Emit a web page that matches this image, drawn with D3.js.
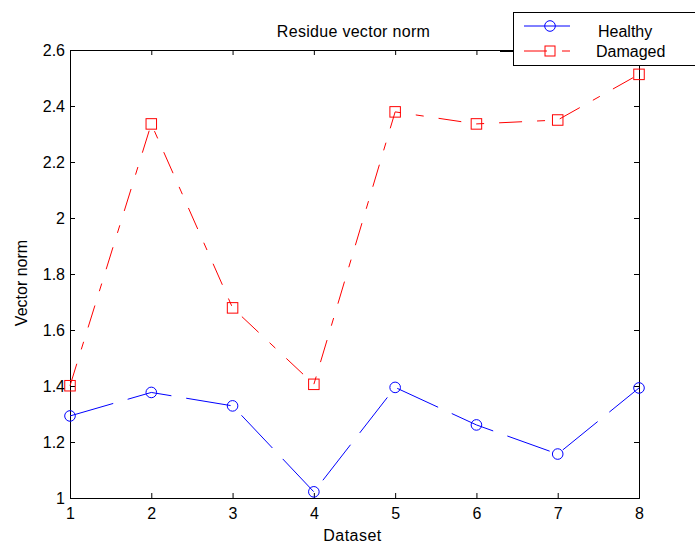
<!DOCTYPE html>
<html>
<head>
<meta charset="utf-8">
<script src="https://cdn.jsdelivr.net/npm/d3@7"></script>
<style>
    body { margin: 0; background: #fff; }
    text { font-family: "Liberation Sans", Arial, sans-serif; font-size: 16px; fill: #000; }
</style>
</head>
<body>
<div id="chart"></div>
<script>
var datasets = [1, 2, 3, 4, 5, 6, 7, 8];
var healthy = [1.293, 1.377, 1.329, 1.022, 1.395, 1.261, 1.157, 1.393];
var damaged = [1.401, 2.336, 1.679, 1.406, 2.379, 2.336, 2.350, 2.513];
var yTicks = [1, 1.2, 1.4, 1.6, 1.8, 2, 2.2, 2.4, 2.6];
var seriesNames = ['Healthy', 'Damaged'];

var width = 695,
    height = 545,
    margins = {top: 50, right: 56, bottom: 47, left: 70};

var svg = d3.select("#chart").append("svg")
    .attr("width", width)
    .attr("height", height);

var x = d3.scaleLinear()
    .domain([1, 8])
    .range([margins.left, width - margins.right]);

var y = d3.scaleLinear()
    .domain([1, 2.6])
    .range([height - margins.bottom, margins.top]);

// axes, ticks pointing inward on all four sides like matlab's box
var fmt = function(d) { return d3.format("")(d); };

svg.append("g")
    .attr("transform", "translate(0," + y(1) + ")")
    .call(d3.axisBottom(x).tickValues(datasets).tickSize(-5).tickPadding(10).tickFormat(fmt));

svg.append("g")
    .attr("transform", "translate(0," + y(2.6) + ")")
    .call(d3.axisTop(x).tickValues(datasets).tickSize(-5).tickFormat(""));

svg.append("g")
    .attr("transform", "translate(" + x(1) + ",0)")
    .call(d3.axisLeft(y).tickValues(yTicks).tickSize(-5).tickPadding(5).tickFormat(fmt));

svg.append("g")
    .attr("transform", "translate(" + x(8) + ",0)")
    .call(d3.axisRight(y).tickValues(yTicks).tickSize(-5).tickFormat(""));

svg.selectAll(".domain").attr("stroke", "#000");
svg.selectAll(".tick line").attr("stroke", "#000");
svg.selectAll(".tick text").attr("font-size", 16).attr("font-family", "Liberation Sans, Arial, sans-serif");
svg.selectAll(".tick text").filter(function() { return this.parentNode.parentNode.getAttribute("transform").indexOf("translate(0,") === 0; })
    .attr("dy", "0.71em");

var line = d3.line()
    .x(function(d, i) { return x(datasets[i]); })
    .y(function(d) { return y(d); });

svg.append("path")
    .datum(healthy)
    .attr("d", line)
    .attr("fill", "none")
    .attr("stroke", "#0000ff")
    .attr("stroke-width", 1)
    .attr("stroke-dasharray", "45,15");

svg.append("path")
    .datum(damaged)
    .attr("d", line)
    .attr("fill", "none")
    .attr("stroke", "#ff0000")
    .attr("stroke-width", 1)
    .attr("stroke-dasharray", "23,15,8,15");

svg.selectAll(".hmark")
    .data(healthy)
    .enter().append("circle")
    .attr("class", "hmark")
    .attr("cx", function(d, i) { return x(datasets[i]); })
    .attr("cy", function(d) { return y(d); })
    .attr("r", 5.3)
    .attr("fill", "none")
    .attr("stroke", "#0000ff");

svg.selectAll(".dmark")
    .data(damaged)
    .enter().append("rect")
    .attr("class", "dmark")
    .attr("x", function(d, i) { return x(datasets[i]) - 5.25; })
    .attr("y", function(d) { return y(d) - 5.25; })
    .attr("width", 10.5)
    .attr("height", 10.5)
    .attr("fill", "none")
    .attr("stroke", "#ff0000");

// labels
svg.append("text")
    .attr("x", 353.5)
    .attr("y", 37)
    .attr("text-anchor", "middle")
    .style("letter-spacing", "0.3px")
    .text("Residue vector norm");

svg.append("text")
    .attr("x", 352.5)
    .attr("y", 541)
    .attr("text-anchor", "middle")
    .style("letter-spacing", "0.5px")
    .text("Dataset");

svg.append("text")
    .attr("transform", "translate(27,283) rotate(-90)")
    .attr("text-anchor", "middle")
    .text("Vector norm");

// legend, runs off the right edge of the figure
var legend = svg.append("g");

legend.append("line")
    .attr("x1", 500).attr("x2", 513)
    .attr("y1", 51.5).attr("y2", 51.5)
    .attr("stroke", "#000");

legend.append("rect")
    .attr("x", 513.5)
    .attr("y", 12.5)
    .attr("width", 200)
    .attr("height", 53)
    .attr("fill", "#fff")
    .attr("stroke", "#000");

legend.append("line")
    .attr("x1", 524).attr("x2", 570)
    .attr("y1", 26).attr("y2", 26)
    .attr("stroke", "#0000ff");

legend.append("circle")
    .attr("cx", 550).attr("cy", 26).attr("r", 5.3)
    .attr("fill", "none").attr("stroke", "#0000ff");

legend.append("line")
    .attr("x1", 524).attr("x2", 570)
    .attr("y1", 51).attr("y2", 51)
    .attr("stroke", "#ff0000")
    .attr("stroke-dasharray", "23,15,8,15");

legend.append("rect")
    .attr("x", 545).attr("y", 46).attr("width", 10).attr("height", 10)
    .attr("fill", "none").attr("stroke", "#ff0000");

legend.selectAll(".ltext")
    .data(seriesNames)
    .enter().append("text")
    .attr("class", "ltext")
    .attr("x", function(d, i) { return i === 0 ? 598 : 596; })
    .attr("y", function(d, i) { return i === 0 ? 37 : 57; })
    .text(function(d) { return d; });
</script>
</body>
</html>
